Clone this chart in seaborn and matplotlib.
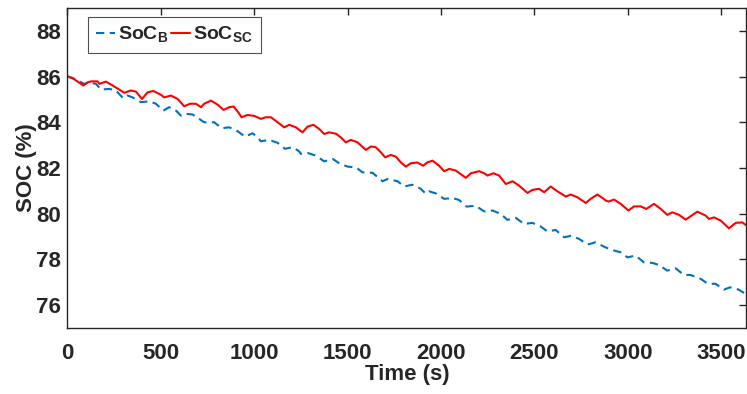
import matplotlib
matplotlib.use("Agg")
import matplotlib.pyplot as plt
import seaborn as sns
import pandas as pd

# State of charge of the battery (SoC_B) and of the supercapacitor (SoC_SC)
t_sc = [0, 29, 86, 110, 127, 163, 172, 207, 243, 279, 305, 341, 368, 400, 430,
        461, 502, 519, 555, 591, 626, 657, 689, 716, 733, 769, 805, 837, 867,
        890, 915, 933, 965, 1001, 1036, 1063, 1090, 1126, 1161, 1188, 1224,
        1259, 1286, 1318, 1348, 1375, 1402, 1438, 1464, 1491, 1518, 1554,
        1598, 1625, 1651, 1678, 1701, 1732, 1758, 1785, 1812, 1839, 1874,
        1905, 1928, 1955, 1990, 2017, 2044, 2079, 2133, 2160, 2204, 2231,
        2249, 2281, 2311, 2347, 2383, 2418, 2463, 2489, 2525, 2552, 2587,
        2623, 2668, 2694, 2730, 2775, 2801, 2837, 2864, 2881, 2896, 2926,
        2962, 3003, 3033, 3069, 3099, 3140, 3176, 3211, 3238, 3274, 3309,
        3372, 3416, 3434, 3461, 3497, 3541, 3577, 3613, 3630]
soc_sc = [86.01, 85.93, 85.61, 85.75, 85.79, 85.79, 85.68, 85.78, 85.61, 85.43,
          85.29, 85.39, 85.34, 85.02, 85.31, 85.37, 85.20, 85.09, 85.17, 85.02,
          84.70, 84.81, 84.81, 84.66, 84.81, 84.95, 84.77, 84.54, 84.66, 84.69,
          84.44, 84.22, 84.32, 84.28, 84.15, 84.22, 84.22, 84.00, 83.78, 83.89,
          83.78, 83.56, 83.81, 83.89, 83.71, 83.49, 83.56, 83.50, 83.34, 83.12,
          83.23, 83.12, 82.79, 82.94, 82.91, 82.69, 82.47, 82.57, 82.50, 82.25,
          82.06, 82.21, 82.24, 82.10, 82.25, 82.32, 82.10, 81.86, 81.96, 81.89,
          81.57, 81.77, 81.86, 81.77, 81.67, 81.77, 81.67, 81.30, 81.42, 81.23,
          80.91, 81.04, 81.09, 80.94, 81.19, 80.98, 80.75, 80.84, 80.72, 80.47,
          80.65, 80.84, 80.69, 80.58, 80.53, 80.62, 80.43, 80.14, 80.32, 80.32,
          80.21, 80.43, 80.21, 79.95, 80.06, 79.95, 79.74, 80.09, 79.92, 79.77,
          79.84, 79.70, 79.36, 79.60, 79.62, 79.51]

t_b = [0, 29, 47, 91, 118, 154, 181, 225, 261, 300, 323, 350, 395, 439, 475,
       514, 546, 582, 609, 635, 671, 706, 733, 787, 826, 867, 912, 951, 992,
       1019, 1036, 1081, 1126, 1165, 1206, 1241, 1250, 1286, 1331, 1375, 1420,
       1455, 1500, 1545, 1580, 1634, 1687, 1714, 1768, 1803, 1848, 1892, 1919,
       1937, 1972, 2017, 2062, 2097, 2137, 2186, 2231, 2276, 2320, 2356, 2400,
       2445, 2489, 2534, 2570, 2614, 2659, 2694, 2739, 2784, 2828, 2872, 2908,
       2962, 2998, 3042, 3086, 3131, 3166, 3211, 3256, 3300, 3336, 3390, 3425,
       3470, 3514, 3548, 3593, 3630]
soc_b = [86.01, 85.93, 85.87, 85.68, 85.75, 85.68, 85.43, 85.46, 85.39, 85.05,
         85.17, 85.09, 84.88, 84.92, 84.81, 84.51, 84.66, 84.51, 84.29, 84.37,
         84.34, 84.15, 84.00, 84.00, 83.74, 83.78, 83.61, 83.37, 83.52, 83.34,
         83.17, 83.23, 83.10, 82.84, 82.91, 82.73, 82.62, 82.66, 82.54, 82.29,
         82.40, 82.21, 82.06, 82.03, 81.81, 81.79, 81.42, 81.52, 81.42, 81.19,
         81.27, 81.09, 80.87, 80.98, 80.89, 80.65, 80.69, 80.60, 80.31, 80.35,
         80.10, 80.14, 79.99, 79.73, 79.82, 79.55, 79.60, 79.44, 79.22, 79.29,
         78.97, 79.03, 78.90, 78.65, 78.75, 78.56, 78.43, 78.31, 78.09, 78.17,
         77.87, 77.85, 77.76, 77.51, 77.61, 77.32, 77.32, 77.15, 76.95, 76.93,
         76.68, 76.78, 76.68, 76.49]

x_ticks = [0, 500, 1000, 1500, 2000, 2500, 3000, 3500]
y_ticks = [76, 78, 80, 82, 84, 86, 88]
label_b = r"SoC$_{\mathbf{B}}$"
label_sc = r"SoC$_{\mathbf{SC}}$"

sns.set_theme(style="white")
plt.rcParams["font.family"] = ["Liberation Sans", "DejaVu Sans"]
plt.rcParams["font.weight"] = "bold"
plt.rcParams["mathtext.fontset"] = "custom"
plt.rcParams["mathtext.rm"] = "Liberation Sans:bold"
plt.rcParams["mathtext.bf"] = "Liberation Sans:bold"

df_b = pd.DataFrame({"t": t_b, "soc": soc_b})
df_sc = pd.DataFrame({"t": t_sc, "soc": soc_sc})

W, H = 747, 394
fig = plt.figure(figsize=(W / 100, H / 100), dpi=100)
ax = fig.add_axes([67.2 / W, 66 / H, (746.5 - 67.2) / W, 320 / H])

blue = (0.0, 0.447, 0.741)
red = (1.0, 0.0, 0.0)
sns.lineplot(data=df_b, x="t", y="soc", ax=ax, color=blue, lw=1.5,
             label=label_b, estimator=None, sort=False)
ax.lines[-1].set_dashes((4, 2.6))
sns.lineplot(data=df_sc, x="t", y="soc", ax=ax, color=red, lw=1.5,
             label=label_sc, estimator=None, sort=False)

ax.set_xlim(0, 3635)
ax.set_ylim(75, 89)
ax.set_xticks(x_ticks)
ax.set_yticks(y_ticks)
ax.set_xlabel("Time (s)", fontsize=16, fontweight="bold", labelpad=0)
ax.set_ylabel("SOC (%)", fontsize=16, fontweight="bold", labelpad=-1)
ax.tick_params(direction="in", length=5, width=1, color="#262626",
               labelsize=16, top=True, right=True)
ax.tick_params(axis="x", pad=10.5)
ax.tick_params(axis="y", pad=4.5)
for lab in ax.get_xticklabels() + ax.get_yticklabels():
    lab.set_fontweight("bold")
    lab.set_color("#262626")
for s in ax.spines.values():
    s.set_color("#262626")
    s.set_linewidth(1)

leg = ax.legend(loc="upper left", ncol=2, fontsize=14, frameon=True,
                fancybox=False, handlelength=1.0, handletextpad=0.15,
                columnspacing=0.1, borderpad=0.4, borderaxespad=0.0,
                bbox_to_anchor=(21 / 679.3, 1 - 9 / 320))
leg.get_frame().set_edgecolor("#262626")
leg.get_frame().set_linewidth(0.8)
for txt in leg.get_texts():
    txt.set_fontweight("bold")

fig.savefig("out.png", dpi=100)
